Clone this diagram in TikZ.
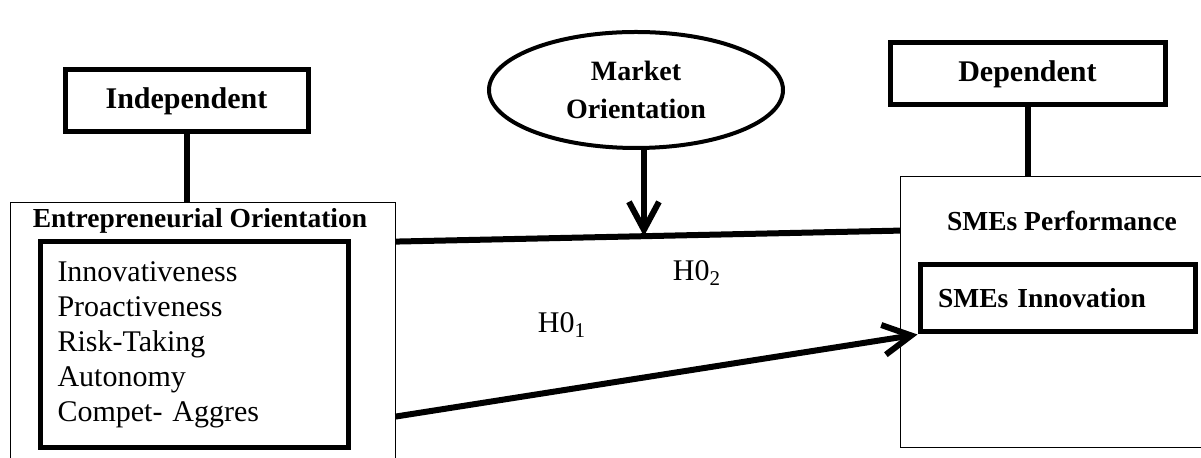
\documentclass[tikz,border=0pt]{standalone}
\usepackage{fontspec}
\setmainfont{Liberation Serif}
\usetikzlibrary{arrows.meta,shapes.geometric}

\begin{document}
\begin{tikzpicture}[x=0.5pt,y=-0.5pt,
  tag/.style={draw, line width=2.5pt, minimum height=31pt,
              font=\fontsize{15}{18}\selectfont\bfseries},
  group/.style={inner sep=0pt},
  itembox/.style={draw, line width=2.5pt, align=left, inner xsep=8.75pt,
                  font=\fontsize{15}{17.5}\selectfont},
  head/.style={font=\fontsize{13.75}{16}\selectfont\bfseries},
  hyp/.style={font=\fontsize{15}{18}\selectfont},
  link/.style={line width=3pt},
  arr/.style={-{Straight Barb[length=14pt,width=15pt]}, line width=3pt},
  rim/.style={line width=0.8pt}
]
  \useasboundingbox (0,0) rectangle (1201,458);

  % Left side: independent variable
  \node[tag, minimum width=121.5pt] at (186.5,101) (indep) {Independent};
  \node[group, minimum width=192pt, minimum height=127.5pt] at (203,330.5) (eo) {};
  \node[head] at (200,221) (eotitle) {Entrepreneurial Orientation};
  \node[itembox, text width=136.5pt, minimum height=103pt] at (194,345) (dims)
    {Innovativeness\\Proactiveness\\Risk-Taking\\Autonomy\\Compet- Aggres};

  % Moderator
  \node[ellipse, draw, line width=2pt, inner sep=0pt,
        minimum width=147pt, minimum height=58pt, align=center,
        font=\fontsize{14}{19}\selectfont\bfseries] at (636,90) (mo)
    {Market\\Orientation};

  % Right side: dependent variable
  \node[tag, minimum width=137.5pt] at (1027.5,74) (dep) {Dependent};
  \node[group, minimum width=150pt, minimum height=135pt] at (1051,312) (perf) {};
  \node[head] at (1062,221) (perftitle) {SMEs Performance};
  \node[itembox, font=\fontsize{13.75}{16}\selectfont\bfseries, inner xsep=9pt,
        text width=119.5pt, minimum height=33.5pt] at (1057.5,298.5) (inno)
    {SMEs Innovation};

  % Open frames
  \draw[rim] (eo.south west) -- (eo.north west) -- (eo.north east) -- (eo.south east);
  \draw[rim] (perf.north east) -- (perf.north west) -- (perf.south west) -- (perf.south east);

  % Headers to frames
  \draw[link] (indep.south) -- (indep.south |- eo.north);
  \draw[link] (dep.south) -- (dep.south |- perf.north);

  % Hypotheses
  \draw[link] ([yshift=-19.5pt]eo.north east) -- coordinate[pos=0.492] (mid)
    ([yshift=-27pt]perf.north west);
  \draw[arr] (mid |- mo.south) -- (mid);
  \draw[arr] ([yshift=-107pt]eo.north east) -- (inno.south west);

  \node[hyp] at (697,273) (h2) {H0\textsubscript{2}};
  \node[hyp] at (562,325) (h1) {H0\textsubscript{1}};

\end{tikzpicture}
\end{document}
